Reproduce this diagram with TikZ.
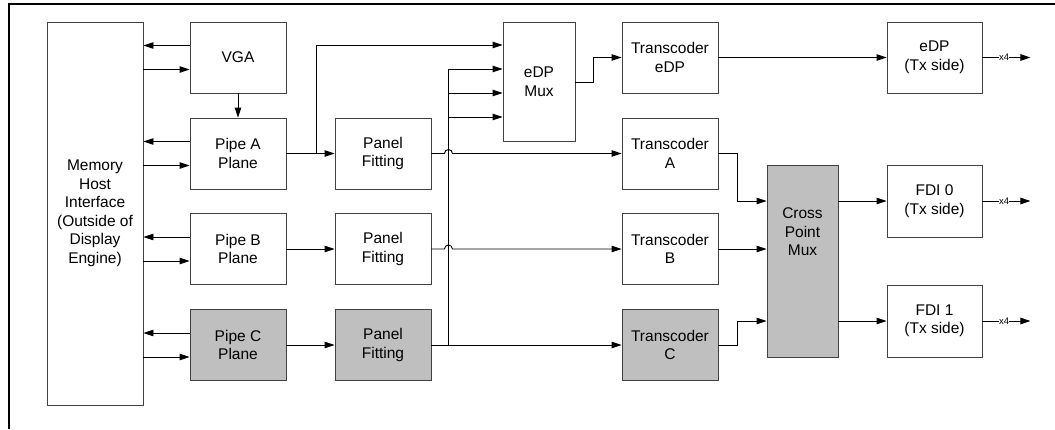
\documentclass[tikz,border=0pt]{standalone}
\usepackage{fontspec}
\setmainfont{Liberation Sans}
\usetikzlibrary{arrows.meta,calc}
\begin{document}
\begin{tikzpicture}[x=1pt,y=-1pt,
  box/.style={draw=black!75,line width=0.9pt,minimum width=96pt,minimum height=71pt,inner sep=0pt,align=center,
     font=\fontsize{15.5}{18.5}\selectfont},
  gbox/.style={box,fill=black!25},
  arr/.style={line width=0.9pt,-{Triangle[length=10pt,width=6.5pt]}},
  ln/.style={line width=0.9pt}]
\useasboundingbox (0,0) rectangle (1055,429);
\draw[line width=2pt] (9,429) -- (9,4) -- (1056,4);
% nodes
\node[box,minimum height=383pt] (mhi) at (95,213.5) {Memory\\Host\\Interface\\(Outside of\\Display\\Engine)};
\node[box] (vga) at (238,57.5) {VGA};
\node[box] (pa) at (238,153.5) {Pipe A\\Plane};
\node[box] (pb) at (238,249) {Pipe B\\Plane};
\node[gbox] (pc) at (238,345) {Pipe C\\Plane};
\node[box] (pfa) at (383,153.5) {Panel\\Fitting};
\node[box] (pfb) at (383,249) {Panel\\Fitting};
\node[gbox] (pfc) at (383,345) {Panel\\Fitting};
\node[box,minimum width=72pt,minimum height=119pt] (mux) at (539,81.5) {eDP\\Mux};
\node[box] (tre) at (670,57.5) {Transcoder\\eDP};
\node[box] (tra) at (670,153.5) {Transcoder\\A};
\node[box] (trb) at (670,249) {Transcoder\\B};
\node[gbox] (trc) at (670,345) {Transcoder\\C};
\node[gbox,minimum width=71pt,minimum height=192pt] (cpm) at (802.5,261) {Cross\\Point\\Mux\\[40pt]};
\node[box,minimum width=95pt] (edp) at (934.5,57.5) {eDP\\(Tx side)};
\node[box,minimum width=95pt,minimum height=72pt] (fdi0) at (934.5,201) {FDI 0\\(Tx side)};
\node[box,minimum width=95pt,minimum height=72pt] (fdi1) at (934.5,321) {FDI 1\\(Tx side)};
% memory interface arrows
\foreach \n in {vga,pa,pb,pc}{
  \coordinate (\n u) at ([yshift=12pt]\n.west);
  \coordinate (\n d) at ([yshift=-12pt]\n.west);
  \draw[arr] (\n u) -- (\n u -| mhi.east);
  \draw[arr] (\n d -| mhi.east) -- (\n d);
}
\draw[arr] (vga.south) -- (pa.north);
\draw[arr] (pa.east) -- (pfa.west);
\draw[arr] (pb.east) -- (pfb.west);
\draw[arr] (pc.east) -- (pfc.west);
% eDP mux inputs
\coordinate (m1) at ([yshift=36.5pt]mux.west);
\coordinate (m2) at ([yshift=12.5pt]mux.west);
\coordinate (m3) at ([yshift=-11.5pt]mux.west);
\coordinate (m4) at ([yshift=-35.5pt]mux.west);
\coordinate (brA) at ([xshift=30pt]pa.east);
\draw[arr] (brA) |- (m1);
\coordinate (jc) at ([xshift=17pt]pfc.east);
\draw[ln] (jc) -- (jc |- m2);
\draw[arr] (jc |- m2) -- (m2);
\draw[arr] (jc |- m3) -- (m3);
\draw[arr] (jc |- m4) -- (m4);
% panel fitting outputs with hops
\draw[arr] (pfa.east) -- ([xshift=-4pt]pfa.east -| jc) arc (180:0:4pt) -- (tra.west);
\draw[arr] (pfb.east) -- ([xshift=-4pt]pfb.east -| jc) arc (180:0:4pt) -- (trb.west);
\draw[arr] (pfc.east) -- (trc.west);
% mux out
\draw[arr] ([yshift=-0.5pt]mux.east) -- ++(18,0) |- (tre.west);
\draw[arr] (tre.east) -- (edp.west);
% transcoders to cross point mux
\coordinate (c1) at ([yshift=60pt]cpm.west);
\coordinate (c3) at ([yshift=-60pt]cpm.west);
\draw[arr] (tra.east) -- ++(19,0) |- (c1);
\draw[arr] (trb.east) -- (trb.east -| cpm.west);
\draw[arr] (trc.east) -- ++(19,0) |- (c3);
\draw[arr] (fdi0.west -| cpm.east) -- (fdi0.west);
\draw[arr] (fdi1.west -| cpm.east) -- (fdi1.west);
% outputs
\foreach \n in {edp,fdi0,fdi1}{
  \draw[arr] (\n.east) -- ++(48,0) node[pos=0.45,fill=white,inner sep=0.3pt,font=\fontsize{9.5}{10}\selectfont]{x4};
}
\end{tikzpicture}
\end{document}
